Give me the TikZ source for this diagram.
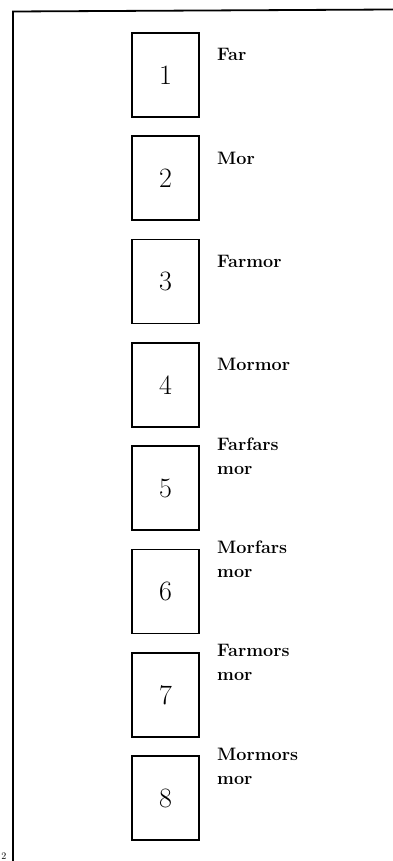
\documentclass[tikz,border=0pt]{standalone}
\usepackage{tikz}

\begin{document}
\begin{tikzpicture}[x=1pt,y=-1pt,
  anebox/.style={draw,line width=1.7pt,minimum width=67pt,minimum height=84pt,inner sep=0pt,
    font=\fontsize{28}{28}\selectfont},
  anelabel/.style={anchor=base west,align=left,inner sep=0pt,
    font=\fontsize{18}{24}\selectfont\bfseries}]
\useasboundingbox (0,0) rectangle (393,861);
\clip (0,0) rectangle (393,861);
% frame, only top and left edge on the page
\draw[line width=1.8pt] (393,9.5) -- (13,11.5) -- (13,861);
\foreach \n/\name [count=\i from 0] in {1/Far,2/Mor,3/Farmor,4/Mormor,
    5/{Farfars\\mor},6/{Morfars\\mor},7/{Farmors\\mor},8/{Mormors\\mor}} {
  \node[anebox] (b\n) at (165.5,{75+\i*103.3}) {\n};
  \node[anelabel] (l\n) at (217,{61+\i*103.3}) {\name};
}
\node[anchor=base east,inner sep=0pt,font=\fontsize{10}{10}\selectfont] (pnum) at (6.5,859) {2};
\end{tikzpicture}
\end{document}
